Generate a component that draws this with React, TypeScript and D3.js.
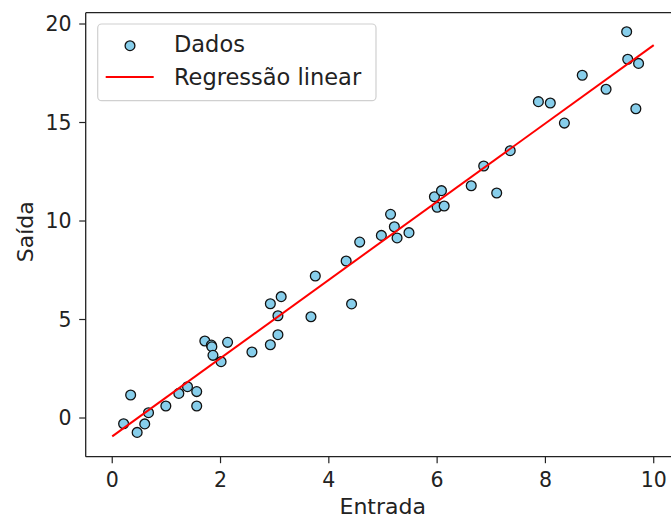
import React from "react";
import * as d3 from "d3";

const xData = [
  0.21, 0.34, 0.46, 0.6, 0.67, 0.99, 1.23, 1.39, 1.56, 1.56, 1.71, 1.83, 1.84, 1.86, 2.01, 2.13,
  2.58, 2.92, 2.92, 3.06, 3.06, 3.12, 3.67, 3.75, 4.32, 4.42, 4.57, 4.97, 5.14, 5.21, 5.26, 5.48,
  5.95, 6.0, 6.08, 6.13, 6.63, 6.86, 7.1, 7.35, 7.87, 8.09, 8.35, 8.68, 9.12, 9.5, 9.52, 9.67, 9.72,
];
const yData = [
  -0.29, 1.17, -0.73, -0.3, 0.27, 0.61, 1.25, 1.59, 1.34, 0.61, 3.91, 3.7, 3.62, 3.18, 2.86, 3.84,
  3.35, 5.8, 3.72, 4.23, 5.19, 6.16, 5.14, 7.21, 7.97, 5.79, 8.93, 9.27, 10.34, 9.71, 9.14, 9.41,
  11.23, 10.7, 11.54, 10.76, 11.79, 12.79, 11.42, 13.57, 16.06, 15.99, 14.97, 17.4, 16.69, 19.61,
  18.21, 15.7, 18.0,
];
const lineX = [0, 10];
const lineY = [-0.93, 18.93];
const xTicks = [0, 2, 4, 6, 8, 10];
const yTicks = [0, 5, 10, 15, 20];
const xLabel = "Entrada";
const yLabel = "Saída";
const legendLabels = ["Dados", "Regressão linear"];

const W = 671;
const H = 517;
const FONT = "DejaVu Sans, sans-serif";

export default function App() {
  const x = d3.scaleLinear().domain([-0.49, 10.5]).range([85.7, 680.8]);
  const y = d3.scaleLinear().domain([-1.964, 20.574]).range([456.7, 12.7]);
  const left = 85.7;
  const right = 680.8;
  const top = 12.7;
  const bottom = 456.7;
  const line = d3
    .line<number>()
    .x((_, i) => x(lineX[i]))
    .y((d) => y(d));

  return (
    <svg
      width={W}
      height={H}
      style={{ position: "absolute", left: 0, top: 0, background: "#fff" }}
      fontFamily={FONT}
    >
      <rect x={0} y={0} width={W} height={H} fill="#fff" />
      {/* points */}
      {xData.map((xv, i) => (
        <circle
          key={i}
          cx={x(xv)}
          cy={y(yData[i])}
          r={4.9}
          fill="#87ceeb"
          stroke="#111"
          strokeWidth={1.3}
        />
      ))}
      {/* line */}
      <path d={line(lineY) || ""} stroke="#ff0000" strokeWidth={2} fill="none" />
      {/* spines */}
      <line x1={left} x2={left} y1={top} y2={bottom} stroke="#222" strokeWidth={1.3} />
      <line x1={left} x2={right} y1={bottom} y2={bottom} stroke="#222" strokeWidth={1.3} />
      <line x1={left} x2={right} y1={top} y2={top} stroke="#222" strokeWidth={1.3} />
      <line x1={right} x2={right} y1={top} y2={bottom} stroke="#222" strokeWidth={1.3} />
      {/* x ticks */}
      {xTicks.map((t) => (
        <g key={t}>
          <line x1={x(t)} x2={x(t)} y1={bottom} y2={bottom + 6.5} stroke="#222" strokeWidth={1.2} />
          <text x={x(t)} y={487.3} textAnchor="middle" fontSize={20.5} fill="#222">
            {t}
          </text>
        </g>
      ))}
      {/* y ticks */}
      {yTicks.map((t) => (
        <g key={t}>
          <line x1={left - 6.5} x2={left} y1={y(t)} y2={y(t)} stroke="#222" strokeWidth={1.2} />
          <text x={71.5} y={y(t) + 7.4} textAnchor="end" fontSize={20.5} fill="#222">
            {t}
          </text>
        </g>
      ))}
      {/* axis labels */}
      <text x={(left + right) / 2 - 0.5} y={513.5} textAnchor="middle" fontSize={22} fill="#222">
        {xLabel}
      </text>
      <text
        transform={`translate(32.5, ${(top + bottom) / 2 - 3}) rotate(-90)`}
        textAnchor="middle"
        fontSize={22}
        fill="#222"
      >
        {yLabel}
      </text>
      {/* legend */}
      <rect
        x={97.7}
        y={24}
        width={278.3}
        height={76.7}
        rx={4}
        fill="#fff"
        fillOpacity={0.8}
        stroke="#d0d0d0"
        strokeWidth={1.2}
      />
      <circle cx={130} cy={45.7} r={4.9} fill="#87ceeb" stroke="#111" strokeWidth={1.3} />
      <text x={174} y={51.5} fontSize={22.5} fill="#222">
        {legendLabels[0]}
      </text>
      <line x1={105.7} x2={153.7} y1={77} y2={77} stroke="#ff0000" strokeWidth={2} />
      <text x={174} y={84.5} fontSize={22.5} fill="#222">
        {legendLabels[1]}
      </text>
    </svg>
  );
}
